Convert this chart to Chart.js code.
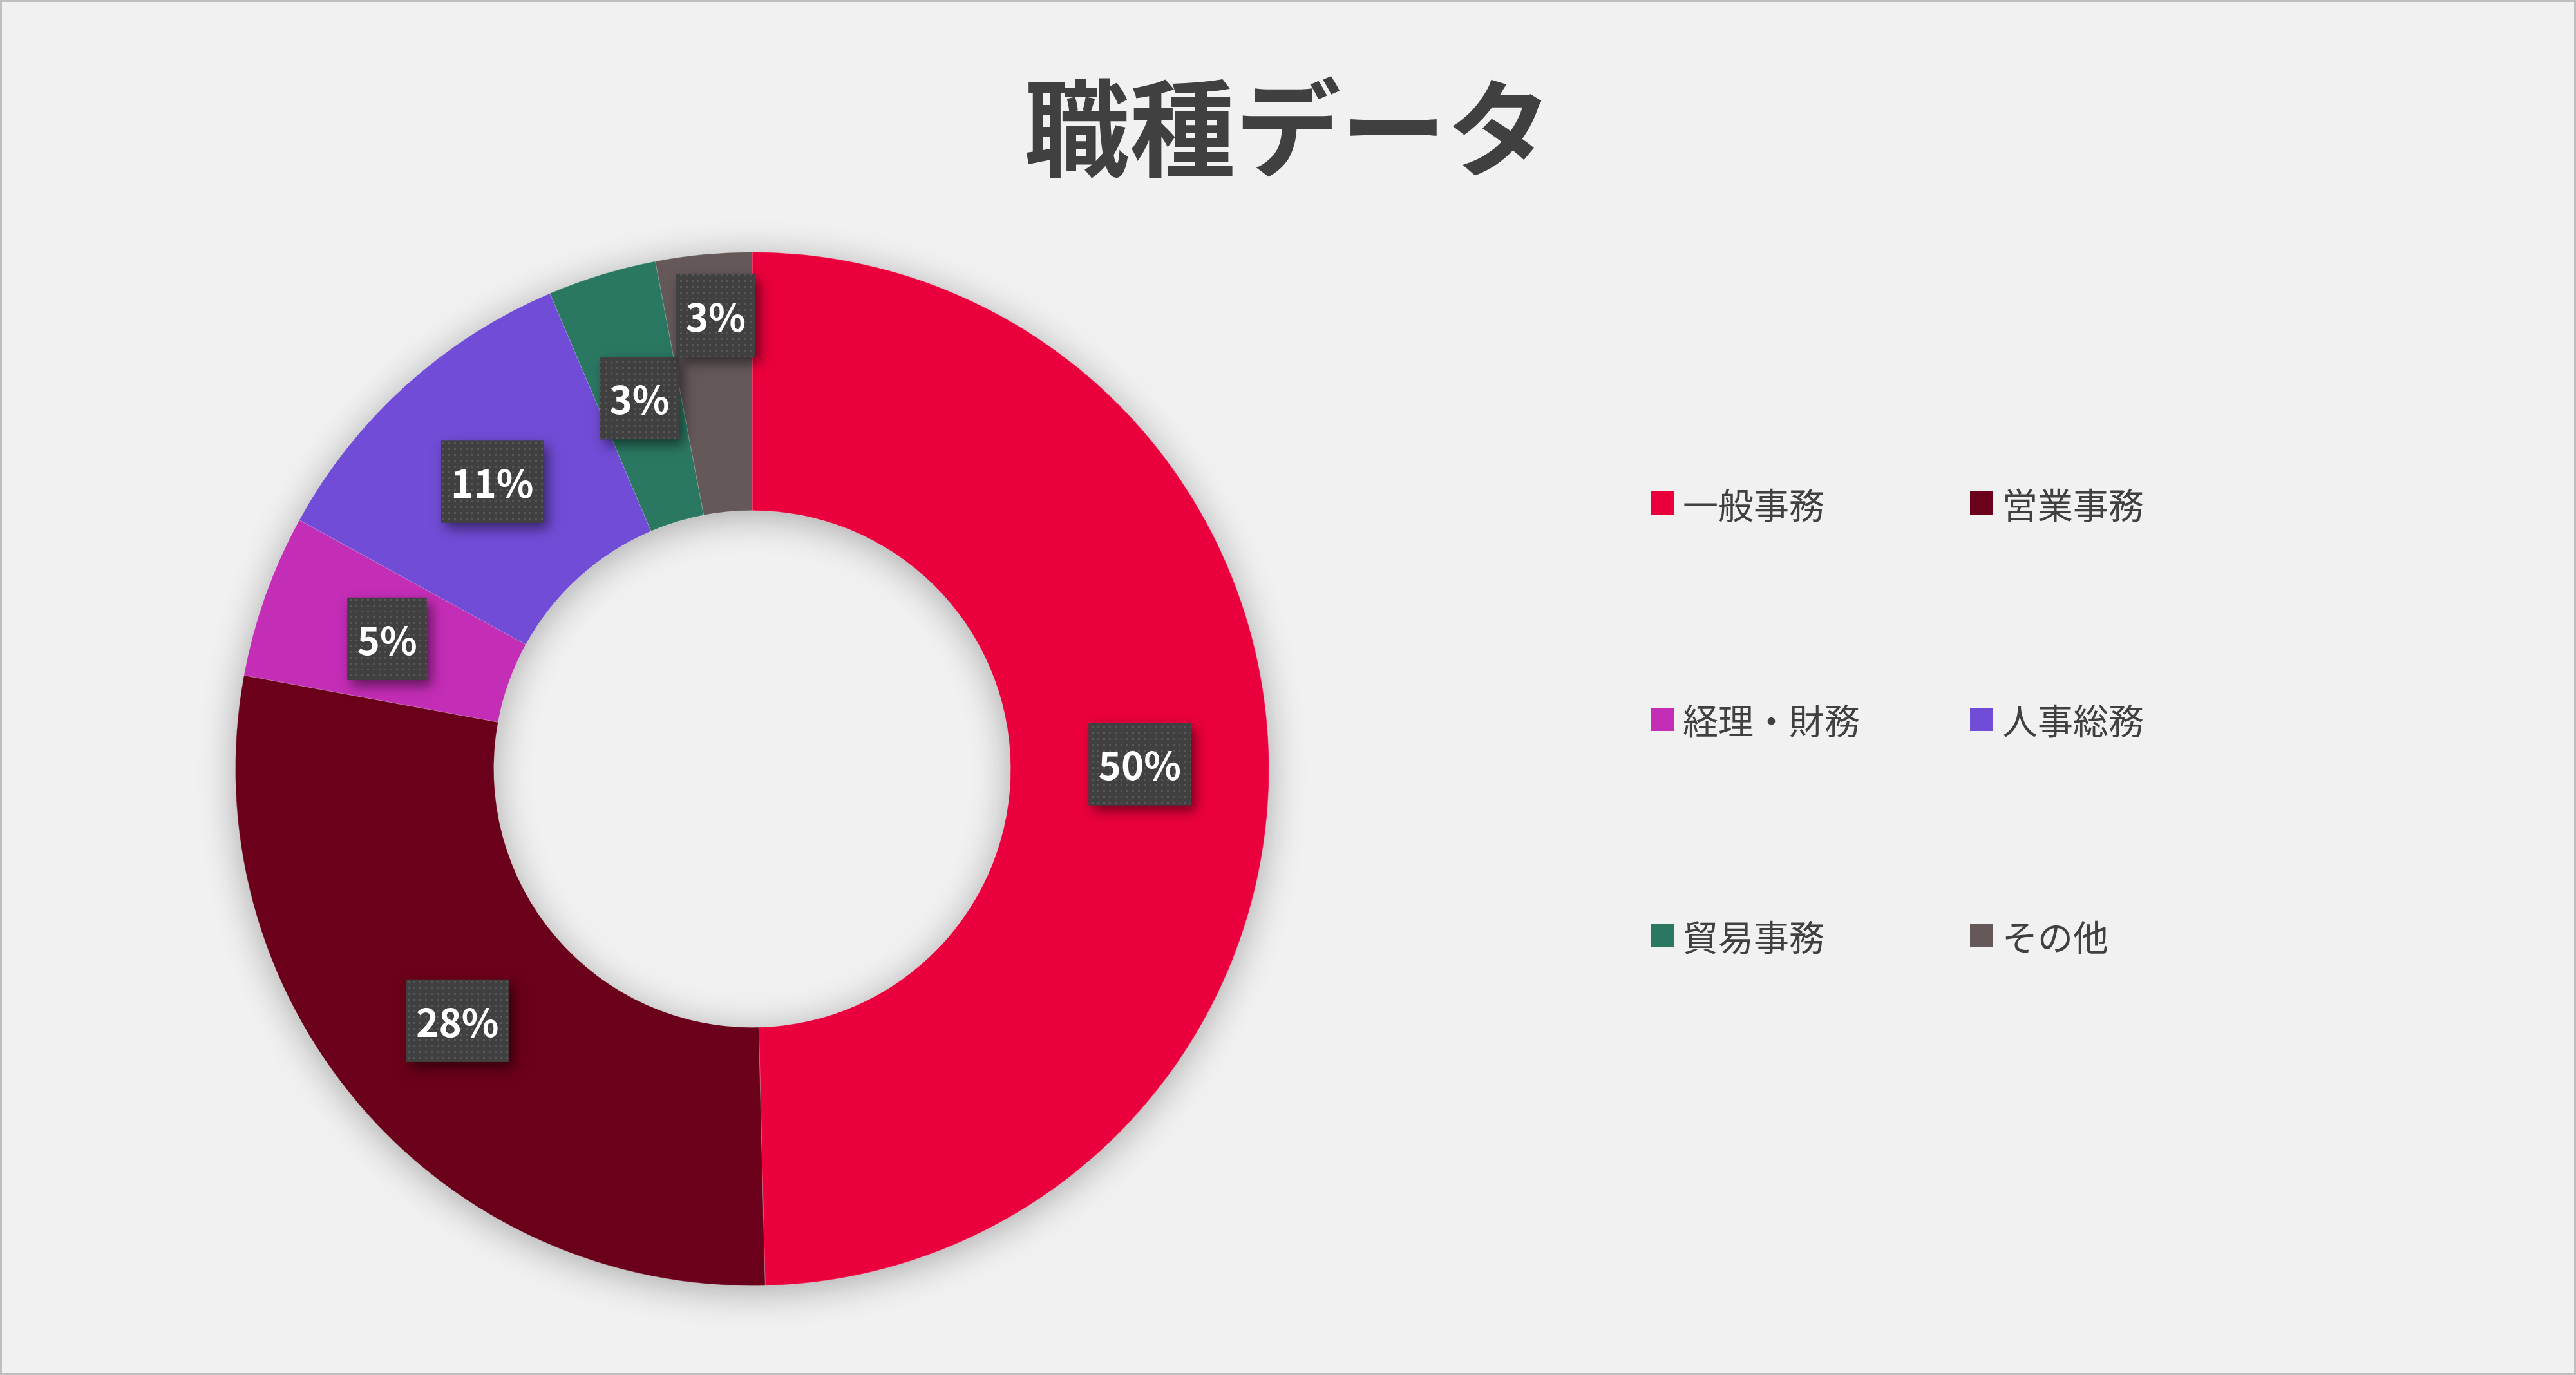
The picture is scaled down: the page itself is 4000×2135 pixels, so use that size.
<!DOCTYPE html>
<html lang="ja">
<head>
<meta charset="utf-8">
<title>職種データ</title>
<script src="https://cdn.jsdelivr.net/npm/chart.js@4.4.1/dist/chart.umd.min.js"></script>
<style>
  html, body { margin: 0; padding: 0; background: #f1f1f1; }
  #wrap { position: relative; width: 4000px; height: 2135px; overflow: hidden; background: #f1f1f1; }
  #frame { position: absolute; left: 0; top: 0; width: 4000px; height: 2135px; box-sizing: border-box;
           border: 3px solid #bfbfbf; pointer-events: none; }
  #title { position: absolute; left: 0; top: 108px; width: 4000px; margin: 0; text-align: center;
           font: bold 164px/1 'Noto Sans CJK JP', sans-serif; color: #404040; }
  .item { position: absolute; height: 56px; display: flex; align-items: center; white-space: nowrap;
          font: 55px/1 'Noto Sans CJK JP', sans-serif; color: #404040; }
  .sw { width: 36px; height: 36px; margin-right: 14px; flex: none; }
  canvas { position: absolute; left: 0; top: 0; }
</style>
</head>
<body>
<div id="wrap">
  <canvas id="myChart" width="4000" height="2135"></canvas>
  <h1 id="title">職種データ</h1>
  <div id="legend"></div>
  <div id="frame"></div>
</div>
<script>
// share of each job type (%)
const labels = ['一般事務', '営業事務', '経理・財務', '人事総務', '貿易事務', 'その他'];
const shares = [49.6, 28.3, 5.1, 10.6, 3.4, 3.0];
const colors = ['#EA003C', '#6A0019', '#C42DB6', '#714CD6', '#2B7862', '#645859'];

// legend, two columns
const legend = document.getElementById('legend');
labels.forEach((name, i) => {
    const col = i % 2, row = Math.floor(i / 2);
    const item = document.createElement('div');
    item.className = 'item';
    item.style.left = (2563 + col * 496) + 'px';
    item.style.top = (753 + row * 335.5) + 'px';
    const sw = document.createElement('span');
    sw.className = 'sw';
    sw.style.background = colors[i];
    const txt = document.createElement('span');
    txt.textContent = name;
    item.appendChild(sw);
    item.appendChild(txt);
    legend.appendChild(item);
});

// soft shadow under the whole ring, drawn before the slices
const ringShadow = {
    id: 'ringShadow',
    beforeDatasetsDraw(chart) {
        const arc = chart.getDatasetMeta(0).data[0];
        if (!arc) return;
        const p = arc.getProps(['x', 'y', 'outerRadius', 'innerRadius'], true);
        const ctx = chart.ctx;
        ctx.save();
        ctx.shadowColor = 'rgba(0,0,0,0.32)';
        ctx.shadowBlur = 60;
        ctx.shadowOffsetY = 8;
        ctx.fillStyle = '#777';
        ctx.beginPath();
        ctx.arc(p.x, p.y, p.outerRadius - 2, 0, Math.PI * 2);
        ctx.arc(p.x, p.y, p.innerRadius + 2, 0, Math.PI * 2, true);
        ctx.fill();
        ctx.restore();
    }
};

// dark dotted boxes with percentages
function dotPattern(ctx) {
    const c = document.createElement('canvas');
    c.width = 9; c.height = 9;
    const g = c.getContext('2d');
    g.fillStyle = '#404040';
    g.fillRect(0, 0, 9, 9);
    g.fillStyle = 'rgba(255,255,255,0.12)';
    g.fillRect(3, 3, 3, 3);
    return ctx.createPattern(c, 'repeat');
}

const pctLabels = {
    id: 'pctLabels',
    afterDatasetsDraw(chart) {
        const ctx = chart.ctx;
        const meta = chart.getDatasetMeta(0);
        const data = chart.data.datasets[0].data;
        const total = data.reduce((a, b) => a + b, 0);
        const fontSize = 60;
        const boxH = 128, padX = 15, gap = 8;
        const cy0 = meta.data[0].y;
        ctx.save();
        ctx.font = 'bold ' + fontSize + 'px "Noto Sans CJK JP"';
        const placed = [];
        meta.data.forEach((arc, i) => {
            const text = Math.round(data[i] / total * 100) + '%';
            const pos = arc.tooltipPosition();
            const w = ctx.measureText(text).width + padX * 2;
            const box = {x: pos.x - w / 2, y: pos.y - boxH / 2, w: w, h: boxH, text: text};
            // push up/down away from a label it runs into
            let moved = true;
            while (moved) {
                moved = false;
                placed.forEach(b => {
                    if (box.x < b.x + b.w + gap && box.x + box.w + gap > b.x &&
                        box.y < b.y + b.h && box.y + box.h > b.y) {
                        box.y = (pos.y < cy0) ? b.y - box.h : b.y + b.h;
                        moved = true;
                    }
                });
            }
            placed.push(box);
        });
        const pat = dotPattern(ctx);
        placed.forEach(b => {
            ctx.save();
            ctx.shadowColor = 'rgba(0,0,0,0.5)';
            ctx.shadowBlur = 18;
            ctx.shadowOffsetX = 7;
            ctx.shadowOffsetY = 9;
            ctx.fillStyle = '#404040';
            ctx.fillRect(b.x, b.y, b.w, b.h);
            ctx.restore();
            ctx.fillStyle = pat;
            ctx.fillRect(b.x, b.y, b.w, b.h);
            ctx.fillStyle = '#ffffff';
            ctx.textAlign = 'center';
            ctx.textBaseline = 'alphabetic';
            ctx.fillText(b.text, b.x + b.w / 2, b.y + b.h / 2 + 25);
        });
        ctx.restore();
    }
};

const ctx = document.getElementById('myChart').getContext('2d');
const myChart = new Chart(ctx, {
    type: 'doughnut',
    data: {
        labels: labels,
        datasets: [{
            data: shares,
            backgroundColor: colors,
            borderColor: 'rgba(255,255,255,0.25)',
            borderWidth: 1,
            hoverOffset: 0
        }]
    },
    options: {
        responsive: false,
        devicePixelRatio: 1,
        animation: false,
        events: [],
        cutout: '50%',
        layout: {
            padding: {left: 365, right: 2029, top: 391, bottom: 138}
        },
        plugins: {
            legend: {display: false},
            title: {display: false},
            tooltip: {enabled: false}
        }
    },
    plugins: [ringShadow, pctLabels]
});
</script>
</body>
</html>
